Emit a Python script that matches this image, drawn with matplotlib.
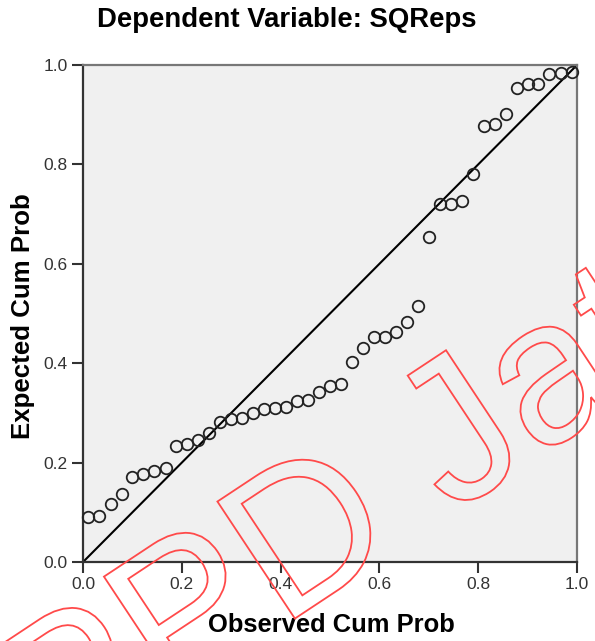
import matplotlib
matplotlib.use("Agg")
import matplotlib.pyplot as plt
from matplotlib.textpath import TextPath
from matplotlib.patches import PathPatch
from matplotlib.font_manager import FontProperties
from matplotlib.transforms import Affine2D

plt.rcParams['font.family'] = ['Liberation Sans', 'DejaVu Sans']

# P-P plot data
observed = [0.011, 0.033, 0.056, 0.078, 0.100, 0.122, 0.144, 0.167, 0.189,
            0.211, 0.233, 0.256, 0.278, 0.300, 0.322, 0.344, 0.367, 0.389,
            0.411, 0.433, 0.456, 0.478, 0.500, 0.522, 0.544, 0.567, 0.589,
            0.611, 0.633, 0.656, 0.678, 0.700, 0.722, 0.744, 0.767, 0.789,
            0.811, 0.833, 0.856, 0.878, 0.900, 0.922, 0.944, 0.967, 0.989]
expected = [0.091, 0.093, 0.117, 0.137, 0.171, 0.177, 0.183, 0.189, 0.233,
            0.237, 0.245, 0.260, 0.282, 0.288, 0.290, 0.300, 0.308, 0.310,
            0.312, 0.324, 0.326, 0.342, 0.354, 0.358, 0.402, 0.431, 0.453,
            0.453, 0.463, 0.483, 0.515, 0.654, 0.720, 0.720, 0.726, 0.781,
            0.877, 0.881, 0.901, 0.954, 0.962, 0.962, 0.982, 0.984, 0.986]
ticks = [0.0, 0.2, 0.4, 0.6, 0.8, 1.0]
tick_labels = ['0.0', '0.2', '0.4', '0.6', '0.8', '1.0']

fig = plt.figure(figsize=(5.95, 6.41), dpi=100)
ax = fig.add_axes([0.1395, 0.1232, 0.8303, 0.7754])
ax.set_facecolor('#f0f0f0')

ax.plot([0, 1], [0, 1], color='black', lw=1.5, zorder=2)
ax.plot(observed, expected, linestyle='none', marker='o', markersize=8.3,
        markerfacecolor='none', markeredgecolor='#222222', markeredgewidth=1.3,
        zorder=3, clip_on=False)

ax.set_xlim(0, 1)
ax.set_ylim(0, 1)
ax.set_xticks(ticks)
ax.set_xticklabels(tick_labels)
ax.set_yticks(ticks)
ax.set_yticklabels(tick_labels)
ax.tick_params(length=8, width=1.5, color='#333333', labelsize=12.5,
               labelcolor='#333333', pad=3)
for side in ['left', 'bottom']:
    ax.spines[side].set_color('#333333')
    ax.spines[side].set_linewidth(1.6)
for side in ['top', 'right']:
    ax.spines[side].set_color('#777777')
    ax.spines[side].set_linewidth(1.6)

fig.text(287 / 595, 1 - 20 / 641, 'Dependent Variable: SQReps', ha='center',
         va='center', fontsize=19.8, fontweight='bold')
fig.text(23 / 595, 1 - 316 / 641, 'Expected Cum Prob', rotation=90,
         ha='center', va='center', fontsize=18.6, fontweight='bold')
fig.text(331 / 595, 1 - 625 / 641, 'Observed Cum Prob', ha='center',
         va='center', fontsize=18.4, fontweight='bold')

# red outlined watermark
wm = TextPath((0, 0), 'PPD Jatim', size=204,
              prop=FontProperties(family='Liberation Sans'))
wm_tr = Affine2D().rotate_deg(33.5).translate(54, -137)
fig.add_artist(PathPatch(wm, facecolor='none', edgecolor='#ff4a4a', lw=1.3,
                         transform=wm_tr, zorder=10))

fig.savefig('out.png', dpi=100)
